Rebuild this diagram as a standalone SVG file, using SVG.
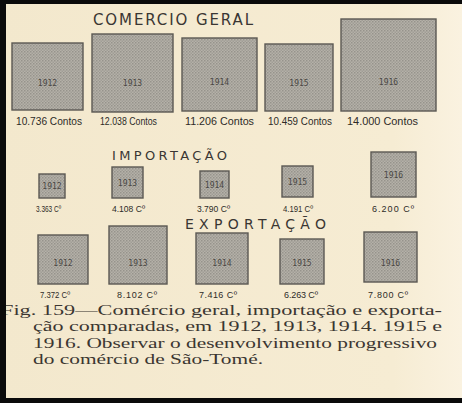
<svg xmlns="http://www.w3.org/2000/svg" width="462" height="403" viewBox="0 0 462 403">
<defs>
<linearGradient id="paper" x1="0" y1="0" x2="1" y2="0">
<stop offset="0" stop-color="#f3e8cd"/>
<stop offset="0.85" stop-color="#f6ecd3"/>
<stop offset="1" stop-color="#faf2e0"/>
</linearGradient>
<pattern id="dots" width="3" height="3" patternUnits="userSpaceOnUse">
<rect width="3" height="3" fill="#b5b1a8"/>
<rect width="1.5" height="1.5" fill="#96938c"/>
<rect x="1.5" y="1.5" width="1.5" height="1.5" fill="#a09d96"/>
</pattern>
<style>
.box{fill:url(#dots);stroke:#5b5853;stroke-width:1.4}
.yr{font-family:"DejaVu Sans Mono","Liberation Mono",monospace;font-size:8px;fill:#4a4744;text-anchor:middle}
.lbl{font-family:"Liberation Sans",Arial,sans-serif;fill:#2e2b28}
.ttl{font-family:"DejaVu Sans","Liberation Sans",sans-serif;fill:#3a3633}
.cap{font-family:"Liberation Serif","DejaVu Serif",serif;font-size:15px;fill:#3b3631}
</style>
</defs>
<rect width="462" height="403" fill="url(#paper)"/>

<!-- Comercio geral -->
<text class="ttl" x="93" y="25" font-size="15" textLength="160" lengthAdjust="spacing">COMERCIO GERAL</text>
<g id="cg1912"><rect class="box" x="12" y="43" width="71" height="67"/><text class="yr" x="47.5" y="86">1912</text><text class="lbl" x="16" y="125" font-size="11" textLength="66" lengthAdjust="spacingAndGlyphs">10.736 Contos</text></g>
<g id="cg1913"><rect class="box" x="92" y="34" width="81" height="78"/><text class="yr" x="132.5" y="86">1913</text><text class="lbl" x="100" y="125" font-size="11" textLength="57" lengthAdjust="spacingAndGlyphs">12.038 Contos</text></g>
<g id="cg1914"><rect class="box" x="182" y="38" width="75" height="73"/><text class="yr" x="219.5" y="85">1914</text><text class="lbl" x="185" y="125" font-size="11" textLength="69" lengthAdjust="spacingAndGlyphs">11.206 Contos</text></g>
<g id="cg1915"><rect class="box" x="265" y="44" width="68" height="67"/><text class="yr" x="299" y="86">1915</text><text class="lbl" x="268" y="125" font-size="11" textLength="64" lengthAdjust="spacingAndGlyphs">10.459 Contos</text></g>
<g id="cg1916"><rect class="box" x="341" y="19" width="95" height="92"/><text class="yr" x="388.5" y="85">1916</text><text class="lbl" x="347" y="125" font-size="11" textLength="71" lengthAdjust="spacingAndGlyphs">14.000 Contos</text></g>

<!-- Importacao -->
<text class="ttl" x="112" y="160" font-size="13" textLength="115" lengthAdjust="spacing">IMPORTAÇÃO</text>
<g id="im1912"><rect class="box" x="39" y="174" width="26" height="24"/><text class="yr" x="52" y="189" font-size="7">1912</text><text class="lbl" x="36" y="212" font-size="9" textLength="25" lengthAdjust="spacingAndGlyphs">3.363 Cº</text></g>
<g id="im1913"><rect class="box" x="112" y="167" width="31" height="31"/><text class="yr" x="127.5" y="186" font-size="7">1913</text><text class="lbl" x="112" y="212" font-size="9" textLength="33" lengthAdjust="spacingAndGlyphs">4.108 Cº</text></g>
<g id="im1914"><rect class="box" x="200" y="171" width="29" height="27"/><text class="yr" x="214.5" y="188" font-size="7">1914</text><text class="lbl" x="197" y="212" font-size="9" textLength="33" lengthAdjust="spacingAndGlyphs">3.790 Cº</text></g>
<g id="im1915"><rect class="box" x="282" y="166" width="31" height="31"/><text class="yr" x="297.5" y="185" font-size="7">1915</text><text class="lbl" x="283" y="212" font-size="9" textLength="30" lengthAdjust="spacingAndGlyphs">4.191 Cº</text></g>
<g id="im1916"><rect class="box" x="371" y="152" width="45" height="45"/><text class="yr" x="393.5" y="178" font-size="7">1916</text><text class="lbl" x="372" y="212" font-size="9" textLength="42" lengthAdjust="spacing">6.200 Cº</text></g>

<!-- Exportacao -->
<text class="ttl" x="185" y="229" font-size="14" textLength="141" lengthAdjust="spacing">EXPORTAÇÃO</text>
<g id="ex1912"><rect class="box" x="38" y="235" width="50" height="49"/><text class="yr" x="63" y="266">1912</text><text class="lbl" x="40" y="298" font-size="9" textLength="30" lengthAdjust="spacingAndGlyphs">7.372 Cº</text></g>
<g id="ex1913"><rect class="box" x="109" y="226" width="58" height="58"/><text class="yr" x="138" y="266">1913</text><text class="lbl" x="117" y="298" font-size="9" textLength="40" lengthAdjust="spacing">8.102 Cº</text></g>
<g id="ex1914"><rect class="box" x="196" y="233" width="52" height="51"/><text class="yr" x="222" y="266">1914</text><text class="lbl" x="199" y="298" font-size="9" textLength="38" lengthAdjust="spacing">7.416 Cº</text></g>
<g id="ex1915"><rect class="box" x="280" y="239" width="44" height="45"/><text class="yr" x="302" y="266">1915</text><text class="lbl" x="284" y="298" font-size="9" textLength="34" lengthAdjust="spacing">6.263 Cº</text></g>
<g id="ex1916"><rect class="box" x="364" y="232" width="53" height="50"/><text class="yr" x="390.5" y="266">1916</text><text class="lbl" x="368" y="298" font-size="9" textLength="40" lengthAdjust="spacing">7.800 Cº</text></g>

<!-- caption -->
<text class="cap" x="1" y="315" textLength="441" lengthAdjust="spacingAndGlyphs">Fig. 159—Comércio geral, importação e exporta-</text>
<text class="cap" x="33" y="331" textLength="409" lengthAdjust="spacingAndGlyphs">ção comparadas, em 1912, 1913, 1914. 1915 e</text>
<text class="cap" x="33" y="348" textLength="404" lengthAdjust="spacingAndGlyphs">1916. Observar o desenvolvimento progressivo</text>
<text class="cap" x="33" y="364" textLength="230" lengthAdjust="spacingAndGlyphs">do comércio de São-Tomé.</text>

<!-- frame -->
<rect x="0" y="0" width="462" height="4" fill="#0a0a0a"/>
<rect x="0" y="0" width="6" height="403" fill="#0a0a0a"/>
<rect x="0" y="398" width="462" height="5" fill="#0a0a0a"/>
</svg>
